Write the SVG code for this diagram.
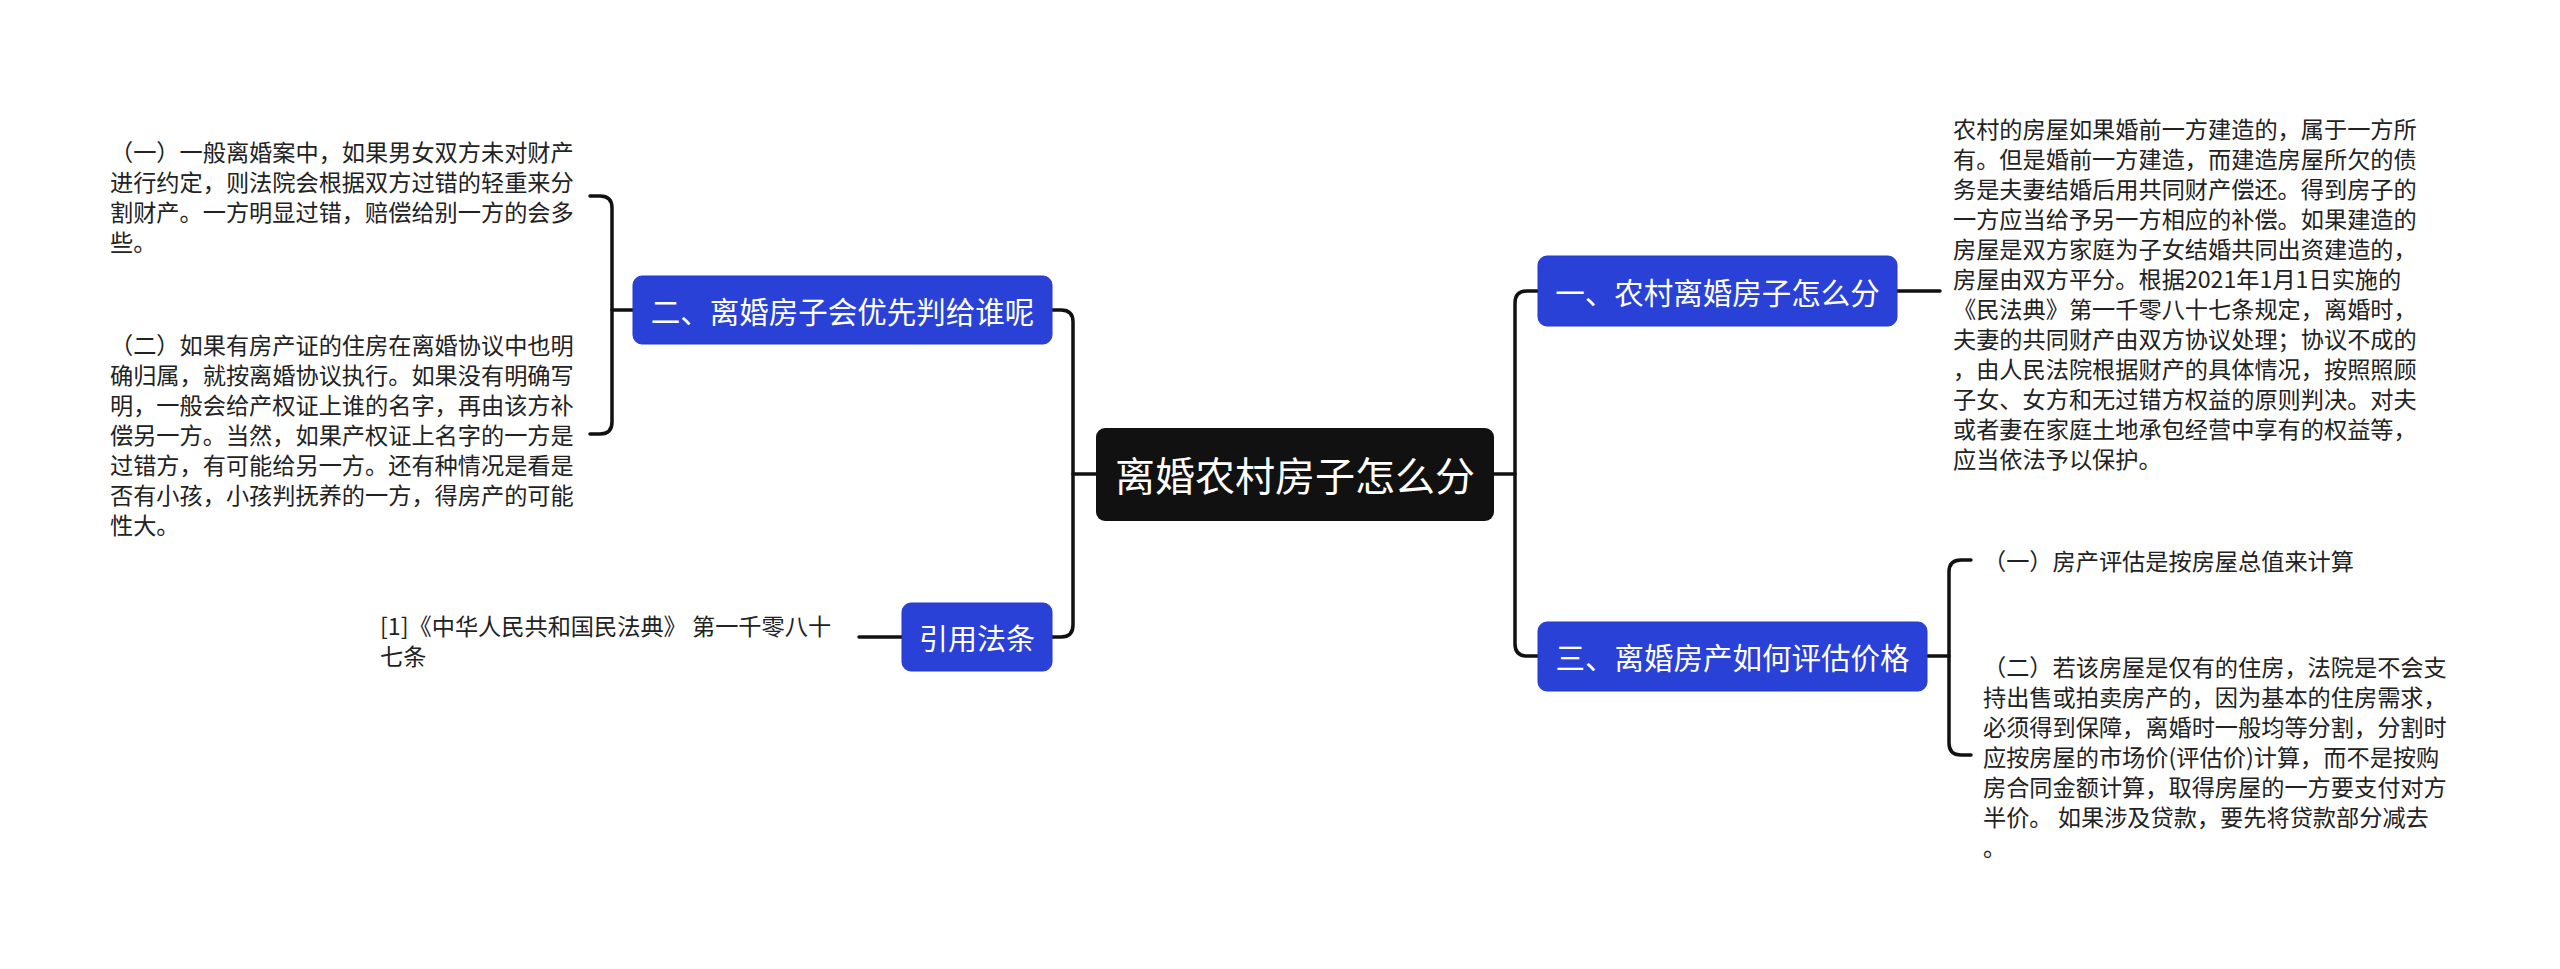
<svg xmlns="http://www.w3.org/2000/svg" width="2560" height="969" viewBox="0 0 2560 969">
<style>
.bg{fill:#ffffff}
.blue{fill:#2a41d8;stroke:#2438c8;stroke-width:1}
.root{fill:#111111}
.lbl{font-family:"Noto Sans CJK SC","Noto Sans",sans-serif;fill:#ffffff;text-anchor:middle;dominant-baseline:central}
.t{font-family:"Noto Sans CJK SC","Noto Sans",sans-serif;font-size:23.2px;fill:#222222;dominant-baseline:central}
.c{fill:none;stroke:#111111;stroke-width:3.5;stroke-linecap:round;stroke-linejoin:round}
</style>
<rect class="bg" x="0" y="0" width="2560" height="969"/>
<g id="connectors">
<path class="c" d="M1494 474 H1515"/>
<path class="c" d="M1538 291 H1527 Q1515 291 1515 303 V644 Q1515 656 1527 656 H1538"/>
<path class="c" d="M1096 474 H1073"/>
<path class="c" d="M1052 310 H1061 Q1073 310 1073 322 V625 Q1073 637 1061 637 H1052"/>
<path class="c" d="M633 310 H612"/>
<path class="c" d="M590 196 H600 Q612 196 612 208 V422 Q612 434 600 434 H590"/>
<path class="c" d="M1897 291 H1940"/>
<path class="c" d="M1927 656 H1949"/>
<path class="c" d="M1971 560 H1961 Q1949 560 1949 572 V743 Q1949 755 1961 755 H1971"/>
<path class="c" d="M902 637 H859"/>
</g>
<g id="root">
<rect class="root" x="1096" y="428" width="398" height="93" rx="9"/>
<text class="lbl" x="1295" y="474" font-size="40">离婚农村房子怎么分</text>
</g>
<g id="n1">
<rect class="blue" x="1538" y="256" width="359" height="70" rx="9"/>
<text class="lbl" x="1717.5" y="291" font-size="29.5">一、农村离婚房子怎么分</text>
</g>
<g id="n2">
<rect class="blue" x="633" y="276" width="419" height="68" rx="9"/>
<text class="lbl" x="842.5" y="310" font-size="29.5">二、离婚房子会优先判给谁呢</text>
</g>
<g id="n3">
<rect class="blue" x="1538" y="622" width="389" height="69" rx="9"/>
<text class="lbl" x="1732.5" y="656" font-size="29.5">三、离婚房产如何评估价格</text>
</g>
<g id="n4">
<rect class="blue" x="902" y="603" width="150" height="68" rx="9"/>
<text class="lbl" x="977" y="637" font-size="29">引用法条</text>
</g>
<g id="n2a">
<text class="t"><tspan x="110" y="151">（一）一般离婚案中，如果男女双方未对财产</tspan><tspan x="110" y="181">进行约定，则法院会根据双方过错的轻重来分</tspan><tspan x="110" y="211">割财产。一方明显过错，赔偿给别一方的会多</tspan><tspan x="110" y="241">些。</tspan></text>
</g>
<g id="n2b">
<text class="t"><tspan x="110" y="344">（二）如果有房产证的住房在离婚协议中也明</tspan><tspan x="110" y="374">确归属，就按离婚协议执行。如果没有明确写</tspan><tspan x="110" y="404">明，一般会给产权证上谁的名字，再由该方补</tspan><tspan x="110" y="434">偿另一方。当然，如果产权证上名字的一方是</tspan><tspan x="110" y="464">过错方，有可能给另一方。还有种情况是看是</tspan><tspan x="110" y="494">否有小孩，小孩判抚养的一方，得房产的可能</tspan><tspan x="110" y="524">性大。</tspan></text>
</g>
<g id="n4a">
<text class="t"><tspan x="380" y="625">[1]《中华人民共和国民法典》 第一千零八十</tspan><tspan x="380" y="655">七条</tspan></text>
</g>
<g id="n1a">
<text class="t"><tspan x="1953" y="128">农村的房屋如果婚前一方建造的，属于一方所</tspan><tspan x="1953" y="158">有。但是婚前一方建造，而建造房屋所欠的债</tspan><tspan x="1953" y="188">务是夫妻结婚后用共同财产偿还。得到房子的</tspan><tspan x="1953" y="218">一方应当给予另一方相应的补偿。如果建造的</tspan><tspan x="1953" y="248">房屋是双方家庭为子女结婚共同出资建造的，</tspan><tspan x="1953" y="278">房屋由双方平分。根据2021年1月1日实施的</tspan><tspan x="1953" y="308">《民法典》第一千零八十七条规定，离婚时，</tspan><tspan x="1953" y="338">夫妻的共同财产由双方协议处理；协议不成的</tspan><tspan x="1953" y="368">，由人民法院根据财产的具体情况，按照照顾</tspan><tspan x="1953" y="398">子女、女方和无过错方权益的原则判决。对夫</tspan><tspan x="1953" y="428">或者妻在家庭土地承包经营中享有的权益等，</tspan><tspan x="1953" y="458">应当依法予以保护。</tspan></text>
</g>
<g id="n3a">
<text class="t"><tspan x="1983" y="560">（一）房产评估是按房屋总值来计算</tspan></text>
</g>
<g id="n3b">
<text class="t"><tspan x="1983" y="666">（二）若该房屋是仅有的住房，法院是不会支</tspan><tspan x="1983" y="696">持出售或拍卖房产的，因为基本的住房需求，</tspan><tspan x="1983" y="726">必须得到保障，离婚时一般均等分割，分割时</tspan><tspan x="1983" y="756">应按房屋的市场价(评估价)计算，而不是按购</tspan><tspan x="1983" y="786">房合同金额计算，取得房屋的一方要支付对方</tspan><tspan x="1983" y="816">半价。 如果涉及贷款，要先将贷款部分减去</tspan><tspan x="1983" y="846">。</tspan></text>
</g>
</svg>
